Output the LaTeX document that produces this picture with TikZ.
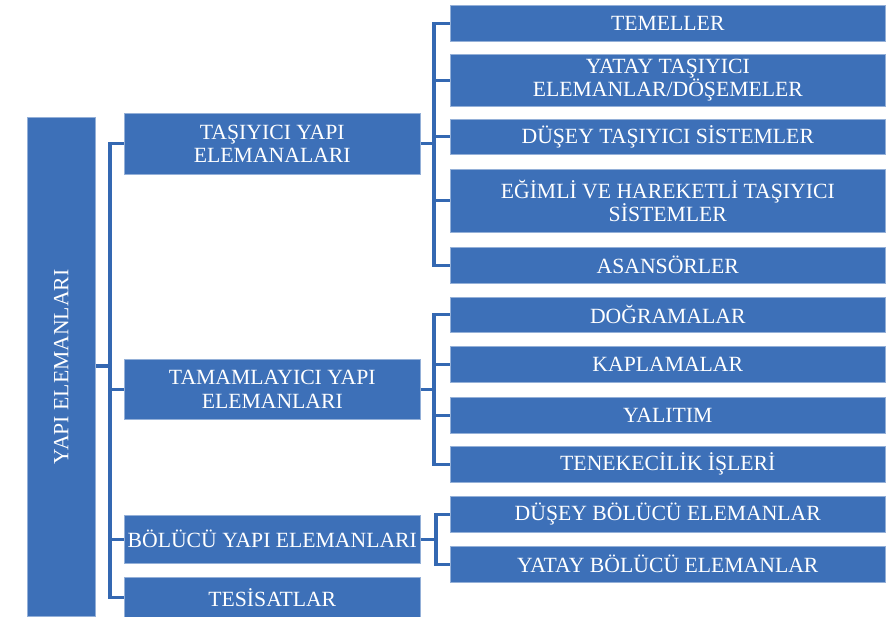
\documentclass[tikz,border=0pt]{standalone}
\usepackage{fontspec}
\setmainfont{Liberation Serif}
\definecolor{boxblue}{RGB}{61,112,184}
\definecolor{lineblue}{RGB}{52,104,178}
\tikzset{
  bx/.style={fill=boxblue, draw=boxblue!55!white, line width=0.6pt, text=white, align=center,
    font=\fontsize{21.7}{23.5}\selectfont, inner sep=0pt, anchor=north west},
  conn/.style={draw=lineblue, line width=3.3pt},
}
\begin{document}
\begin{tikzpicture}[x=1pt,y=-1pt]
\useasboundingbox (0,0) rectangle (886,616);
% root
\node[bx, minimum width=68pt, minimum height=499pt] (root) at (27,117) {};
\node[text=white, font=\fontsize{21.7}{23.5}\selectfont, rotate=90] (rootlbl) at (root.center) {YAPI ELEMANLARI};
% level 2
\node[bx, minimum width=296pt, minimum height=61pt] (tas) at (124,113) {TAŞIYICI YAPI\\ELEMANALARI};
\node[bx, minimum width=296pt, minimum height=60pt] (tam) at (124,359) {TAMAMLAYICI YAPI\\ELEMANLARI};
\node[bx, minimum width=296pt, minimum height=48pt] (bol) at (124,515) {BÖLÜCÜ YAPI ELEMANLARI};
\node[bx, minimum width=296pt, minimum height=40pt] (tes) at (124,577) {TESİSATLAR};
% level 3, group 1
\node[bx, minimum width=435pt, minimum height=36pt] (tem) at (450,5) {TEMELLER};
\node[bx, minimum width=435pt, minimum height=52pt] (yat) at (450,54) {YATAY TAŞIYICI\\ELEMANLAR/DÖŞEMELER};
\node[bx, minimum width=435pt, minimum height=35pt] (dus) at (450,119) {DÜŞEY TAŞIYICI SİSTEMLER};
\node[bx, minimum width=435pt, minimum height=63pt] (egi) at (450,169) {EĞİMLİ VE HAREKETLİ TAŞIYICI\\SİSTEMLER};
\node[bx, minimum width=435pt, minimum height=36pt] (asa) at (450,247) {ASANSÖRLER};
% group 2
\node[bx, minimum width=435pt, minimum height=35pt] (dog) at (450,297) {DOĞRAMALAR};
\node[bx, minimum width=435pt, minimum height=36pt] (kap) at (450,346) {KAPLAMALAR};
\node[bx, minimum width=435pt, minimum height=36pt] (yal) at (450,397) {YALITIM};
\node[bx, minimum width=435pt, minimum height=36pt] (ten) at (450,446) {TENEKECİLİK İŞLERİ};
% group 3
\node[bx, minimum width=435pt, minimum height=36pt] (dbe) at (450,496) {DÜŞEY BÖLÜCÜ ELEMANLAR};
\node[bx, minimum width=435pt, minimum height=36pt] (ybe) at (450,546) {YATAY BÖLÜCÜ ELEMANLAR};
% bracket coordinates
\coordinate (lb) at (110,0);
\coordinate (rb1) at (434,0);
\coordinate (rb2) at (434,0);
\coordinate (rb3) at (436,0);
% left bracket
\draw[conn] (root.east |- 0,366) -- (lb |- 0,366);
\draw[conn] (tas.west) -| (lb |- tes.west) -- (tes.west);
\draw[conn] (lb |- tam.west) -- (tam.west);
\draw[conn] (lb |- bol.west) -- (bol.west);
% right bracket 1
\draw[conn] (tas.east) -- (rb1 |- tas.east);
\draw[conn] (tem.west) -| (rb1 |- asa.west) -- (asa.west);
\draw[conn] (rb1 |- yat.west) -- (yat.west);
\draw[conn] (rb1 |- dus.west) -- (dus.west);
\draw[conn] (rb1 |- egi.west) -- (egi.west);
% right bracket 2
\draw[conn] (tam.east) -- (rb2 |- tam.east);
\draw[conn] (dog.west) -| (rb2 |- ten.west) -- (ten.west);
\draw[conn] (rb2 |- kap.west) -- (kap.west);
\draw[conn] (rb2 |- yal.west) -- (yal.west);
% right bracket 3
\draw[conn] (bol.east) -- (rb3 |- bol.east);
\draw[conn] (dbe.west) -| (rb3 |- ybe.west) -- (ybe.west);
\end{tikzpicture}
\end{document}
